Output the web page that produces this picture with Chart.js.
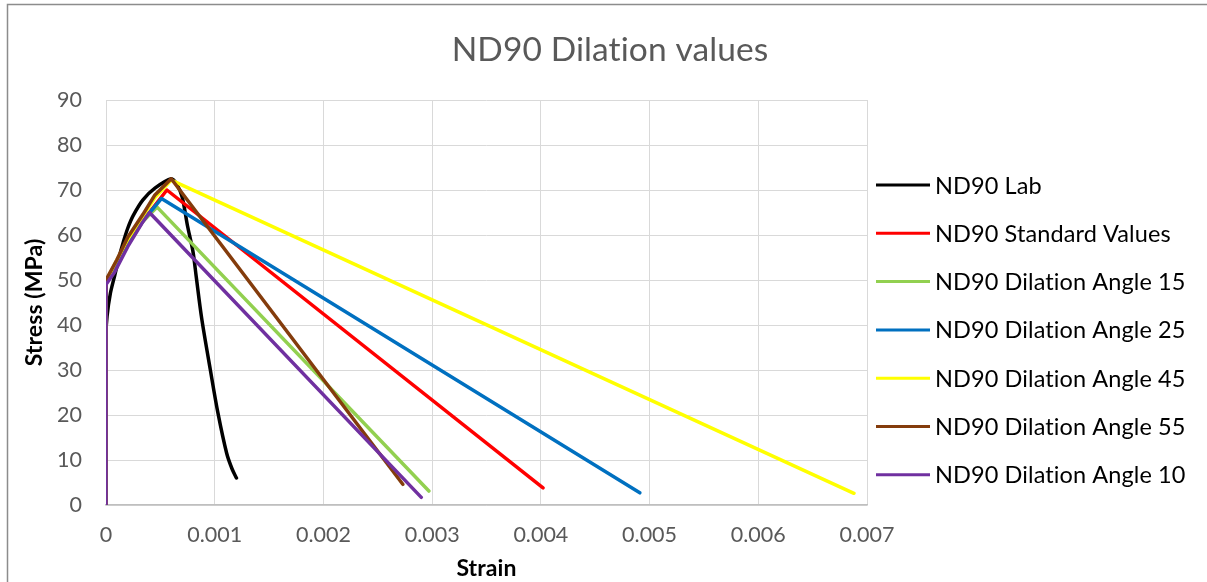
<!DOCTYPE html>
<html>
<head>
<meta charset="utf-8">
<script src="https://cdn.jsdelivr.net/npm/chart.js@4.4.1/dist/chart.umd.min.js"></script>
<style>
  html, body { margin: 0; padding: 0; background: #ffffff; }
  canvas { display: block; }
</style>
</head>
<body>
<canvas id="chart" width="1207" height="582"></canvas>
<script>
// ---- Text ----
const chartTitle = 'ND90 Dilation values';
const xAxisTitle = 'Strain';
const yAxisTitle = 'Stress (MPa)';
const xTickLabels = ['0', '0.001', '0.002', '0.003', '0.004', '0.005', '0.006', '0.007'];
const yTickLabels = ['0', '10', '20', '30', '40', '50', '60', '70', '80', '90'];
const seriesNames = [
  'ND90 Lab',
  'ND90 Standard Values',
  'ND90 Dilation Angle 15',
  'ND90 Dilation Angle 25',
  'ND90 Dilation Angle 45',
  'ND90 Dilation Angle 55',
  'ND90 Dilation Angle 10'
];

// ---- Series (strain, stress in MPa) ----
const labStrain = [0, 0, 0.00001, 0.00004, 0.00008, 0.00012, 0.00016, 0.0002, 0.00025, 0.00034, 0.00045, 0.0006, 0.00065, 0.0007, 0.00075, 0.0008, 0.00083, 0.00088, 0.00096, 0.00103, 0.00111, 0.00116, 0.0012];
const labStress = [0, 38, 42, 47, 51, 55, 58.5, 61.5, 64.3, 67.8, 70.4, 72.5, 71.3, 68.5, 62, 56.3, 50.7, 41.5, 30, 20.4, 11.5, 8, 6];

const standardStrain = [0, 0, 0.00008, 0.0002, 0.00035, 0.00056, 0.00402];
const standardStress = [0, 49.3, 52.8, 58, 63.5, 70, 3.8];

const angle15Strain = [0, 0, 0.00008, 0.0002, 0.00033, 0.00047, 0.00297];
const angle15Stress = [0, 49.3, 52.5, 57.8, 62.8, 66.2, 3.1];

const angle25Strain = [0, 0, 0.00008, 0.0002, 0.00035, 0.00051, 0.00491];
const angle25Stress = [0, 49.3, 52.8, 58, 63.5, 68.1, 2.7];

const angle45Strain = [0, 0, 0.00008, 0.0002, 0.00034, 0.00045, 0.0006, 0.00688];
const angle45Stress = [0, 49.5, 53.5, 59, 64.2, 68.3, 72.2, 2.6];

const angle55Strain = [0, 0, 0.0001, 0.0002, 0.00034, 0.00045, 0.0006, 0.00273];
const angle55Stress = [0, 50, 54.5, 59.5, 64.6, 68.9, 72.5, 4.6];

const angle10Strain = [0, 0, 0.00008, 0.0002, 0.00033, 0.0004, 0.0029];
const angle10Stress = [0, 49, 51.8, 57.4, 62.6, 65, 1.7];

// ---- Styling ----
const seriesColours = ['#000000', '#ff0000', '#92d050', '#0070c0', '#ffff00', '#843c0c', '#7030a0'];
const seriesTension = [0.3, 0, 0, 0, 0, 0, 0];
const FONT = 'Lato, "Liberation Sans", sans-serif';

const seriesData = [
  [labStrain, labStress],
  [standardStrain, standardStress],
  [angle15Strain, angle15Stress],
  [angle25Strain, angle25Stress],
  [angle45Strain, angle45Stress],
  [angle55Strain, angle55Stress],
  [angle10Strain, angle10Stress]
];

const toPoints = (xs, ys) => xs.map((x, i) => ({ x: x, y: ys[i] }));

const datasets = seriesData.map(([xs, ys], i) => ({
  label: seriesNames[i],
  data: toPoints(xs, ys),
  borderColor: seriesColours[i],
  backgroundColor: seriesColours[i],
  borderWidth: 3.5,
  borderCapStyle: 'round',
  borderJoinStyle: 'round',
  tension: seriesTension[i],
  pointRadius: 0,
  showLine: true,
  // later series sit on top of earlier ones
  order: seriesData.length - 1 - i
}));

// Plot box edges in canvas pixels
const PLOT = { left: 106, right: 867, top: 100, bottom: 505 };

const decorations = {
  id: 'decorations',
  beforeDraw(chart) {
    const ctx = chart.ctx;
    ctx.save();
    ctx.fillStyle = '#ffffff';
    ctx.fillRect(0, 0, chart.width, chart.height);
    // outer chart frame
    ctx.strokeStyle = '#8c8c8c';
    ctx.lineWidth = 1.5;
    ctx.beginPath();
    ctx.moveTo(7.5, chart.height + 2);
    ctx.lineTo(7.5, 4.5);
    ctx.lineTo(chart.width + 2, 4.5);
    ctx.stroke();
    ctx.restore();
  },
  afterDraw(chart) {
    const ctx = chart.ctx;
    const area = chart.chartArea;
    ctx.save();
    // a hair of letter spacing keeps "ti" from fusing into a ligature
    if ('letterSpacing' in ctx) ctx.letterSpacing = '0.1px';

    // chart title
    ctx.fillStyle = '#595959';
    ctx.font = '33.5px ' + FONT;
    ctx.textAlign = 'center';
    ctx.textBaseline = 'alphabetic';
    ctx.fillText(chartTitle, 610, 61);

    // axis titles
    ctx.fillStyle = '#000000';
    ctx.font = 'bold 23px ' + FONT;
    ctx.textBaseline = 'middle';
    ctx.fillText(xAxisTitle, (area.left + area.right) / 2, 569);
    ctx.save();
    ctx.translate(35, (area.top + area.bottom) / 2);
    ctx.rotate(-Math.PI / 2);
    ctx.fillText(yAxisTitle, 0, 0);
    ctx.restore();

    // legend
    ctx.font = '23.5px ' + FONT;
    ctx.textAlign = 'left';
    chart.data.datasets.forEach((ds, i) => {
      const y = 185 + i * 48.3;
      ctx.strokeStyle = ds.borderColor;
      ctx.lineWidth = 3;
      ctx.lineCap = 'butt';
      ctx.beginPath();
      ctx.moveTo(876, y);
      ctx.lineTo(930, y);
      ctx.stroke();
      ctx.fillStyle = '#000000';
      ctx.fillText(ds.label, 935, y + 1);
    });
    ctx.restore();
  }
};

new Chart(document.getElementById('chart'), {
  type: 'scatter',
  data: { datasets: datasets },
  options: {
    responsive: false,
    animation: false,
    devicePixelRatio: 1,
    layout: {
      padding: { left: 0, top: PLOT.top, right: 1207 - PLOT.right, bottom: 0 }
    },
    plugins: {
      legend: { display: false },
      title: { display: false },
      tooltip: { enabled: false }
    },
    scales: {
      x: {
        type: 'linear',
        min: 0,
        max: 0.007,
        afterFit(scale) { scale.height = 582 - PLOT.bottom; },
        afterBuildTicks(scale) {
          scale.ticks = xTickLabels.map((t, i) => ({ value: i * 0.001 }));
        },
        ticks: {
          autoSkip: false,
          maxRotation: 0,
          padding: 17,
          color: '#595959',
          font: { family: FONT, size: 21.5 },
          callback: (v, i) => xTickLabels[i]
        },
        grid: { color: '#d9d9d9', lineWidth: 1, drawTicks: false },
        border: { display: true, color: '#bfbfbf', width: 1.5 }
      },
      y: {
        type: 'linear',
        min: 0,
        max: 90,
        afterFit(scale) { scale.width = PLOT.left; },
        afterBuildTicks(scale) {
          scale.ticks = yTickLabels.map((t, i) => ({ value: i * 10 }));
        },
        ticks: {
          padding: 24,
          color: '#595959',
          font: { family: FONT, size: 21.5 },
          callback: (v, i) => yTickLabels[i]
        },
        grid: { color: '#d9d9d9', lineWidth: 1, drawTicks: false },
        border: { display: false }
      }
    }
  },
  plugins: [decorations]
});
</script>
</body>
</html>
